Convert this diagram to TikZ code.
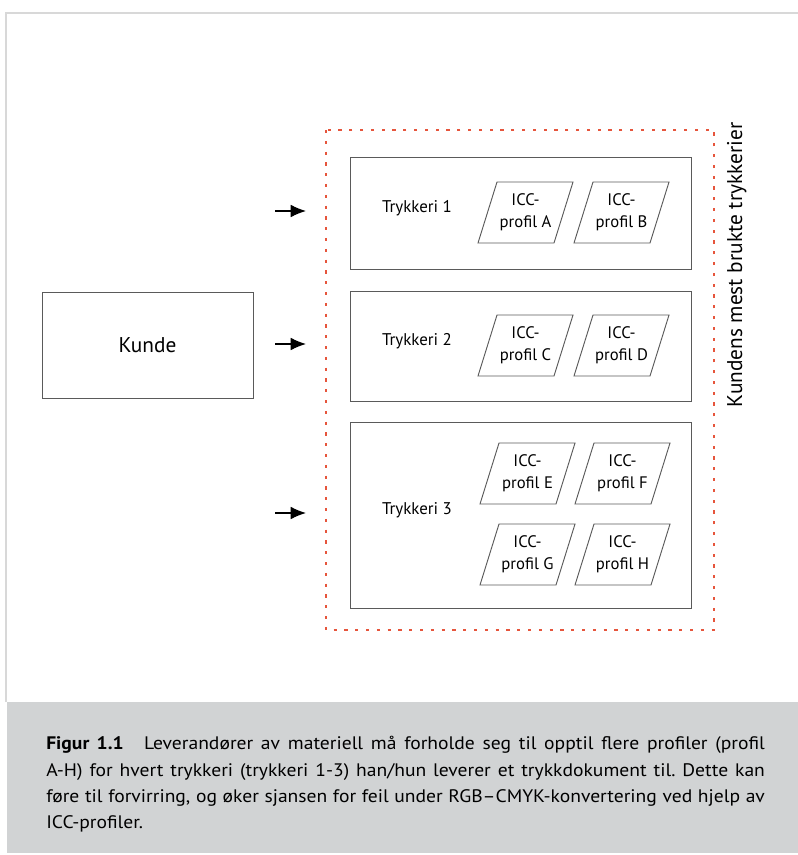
\documentclass[tikz,border=0pt]{standalone}
\usepackage{fontspec}
\setmainfont{PT Sans}
\newfontfamily\capfont[FakeStretch=1.08]{PT Sans}
\usetikzlibrary{arrows.meta}
\definecolor{framegray}{RGB}{216,216,216}
\definecolor{bandgray}{RGB}{209,211,212}
\definecolor{boxgray}{RGB}{90,90,90}
\definecolor{dashred}{RGB}{230,85,60}
\tikzset{
  boxline/.style={draw=boxgray, line width=0.75pt},
  proflabel/.style={align=center, font=\fontsize{12.5}{16.3}\selectfont, inner sep=0pt},
  trylabel/.style={font=\fontsize{12.7}{15}\selectfont, inner sep=0pt},
  feedarrow/.style={line width=0.9pt, -{Latex[length=11.5pt,width=9.5pt]}},
  capline/.style={anchor=base west, inner sep=0pt, font=\capfont\fontsize{13.6}{18}\selectfont\frenchspacing},
}
\newcommand\iccprof[4]{%
  \draw[boxline, line width=0.7pt] (#2,#3+61) -- (#2+76,#3+61) -- (#2+95,#3) -- (#2+19,#3) -- cycle;
  \node[proflabel] (#1) at (#2+47.5,#3+30.5) {ICC-\\profil #4};
}
\begin{document}
\begin{tikzpicture}[x=0.75pt,y=-0.75pt]
\useasboundingbox (0,0) rectangle (798,855);
% frame and caption band
\fill[bandgray] (7,702) rectangle (798,853);
\draw[framegray, line width=1.5pt] (6,702) -- (6,13) -- (798,13);
% Kunde
\node[boxline, minimum width=211*0.75pt, minimum height=106*0.75pt, font=\fontsize{16}{18}\selectfont] (kunde) at (147.5,345) {Kunde};
% dashed group
\draw[dashred, line width=0.9pt, dash pattern=on 2.4pt off 5.7pt] (326,130) rectangle (714,630);
\node[rotate=90, anchor=base, inner sep=0pt, font=\fontsize{16}{18}\selectfont] (grouplabel) at (742,265) {Kundens mest brukte trykkerier};
% printers
\node[boxline, minimum width=341*0.75pt, minimum height=112*0.75pt] (t1) at (520.5,214) {};
\node[boxline, minimum width=341*0.75pt, minimum height=110*0.75pt] (t2) at (520.5,346) {};
\node[boxline, minimum width=341*0.75pt, minimum height=186*0.75pt] (t3) at (520.5,515) {};
\node[trylabel] (t1l) at (417,208) {Trykkeri 1};
\node[trylabel] (t2l) at (417,341) {Trykkeri 2};
\node[trylabel] (t3l) at (417,510) {Trykkeri 3};
\iccprof{pA}{478}{182}{A}
\iccprof{pB}{574}{182}{B}
\iccprof{pC}{478}{315}{C}
\iccprof{pD}{574}{315}{D}
\iccprof{pE}{480}{443}{E}
\iccprof{pF}{575}{443}{F}
\iccprof{pG}{480}{524}{G}
\iccprof{pH}{575}{524}{H}
% arrows
\coordinate (a1s) at (275,211); \coordinate (a1e) at (306,211);
\coordinate (a2s) at (275,344); \coordinate (a2e) at (306,344);
\coordinate (a3s) at (275,513); \coordinate (a3e) at (306,513);
\draw[feedarrow] (a1s) -- (a1e);
\draw[feedarrow] (a2s) -- (a2e);
\draw[feedarrow] (a3s) -- (a3e);
% caption
\node[capline] (cap1) at (46,749) {\makebox[539pt][s]{\textbf{Figur 1.1}\hspace{0.7em} Leverandører av materiell må forholde seg til opptil flere profiler (profil}};
\node[capline] (cap2) at (46,776) {\makebox[539pt][s]{A-H) for hvert trykkeri (trykkeri 1-3) han/hun leverer et trykkdokument til. Dette kan}};
\node[capline] (cap3) at (46,802) {\makebox[539pt][s]{føre til forvirring, og øker sjansen for feil under RGB–CMYK-konvertering ved hjelp av}};
\node[capline] (cap4) at (46,828) {ICC-profiler.};
\end{tikzpicture}
\end{document}
